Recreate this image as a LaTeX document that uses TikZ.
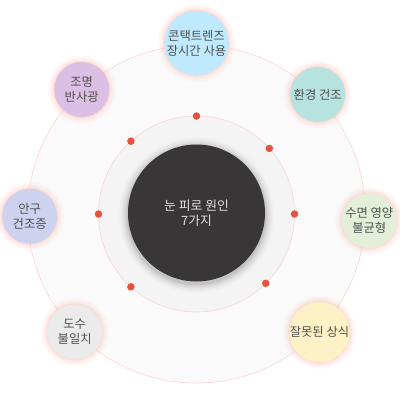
\documentclass[tikz,border=0pt]{standalone}
\usepackage{fontspec}
\usetikzlibrary{calc}
\setmainfont{Noto Sans CJK KR}
\definecolor{ringline}{HTML}{F9D6D0}
\definecolor{outerfill}{HTML}{FAFAFA}
\definecolor{midfill}{HTML}{F4F4F4}
\definecolor{corefill}{HTML}{383636}
\definecolor{coretext}{HTML}{E2E2E2}
\definecolor{dotred}{HTML}{E9513F}
\definecolor{glow}{HTML}{FFB4A8}
\definecolor{labeltext}{HTML}{505050}
\definecolor{cblue}{HTML}{BFE9FC}
\definecolor{cteal}{HTML}{B7E3DE}
\definecolor{cgreen}{HTML}{E3EFD9}
\definecolor{cyellow}{HTML}{FFF1C6}
\definecolor{cgray}{HTML}{EBEBEB}
\definecolor{clav}{HTML}{CDD3EF}
\definecolor{cpurple}{HTML}{DCBFE4}
\tikzset{
  ring/.style={circle, draw=ringline, line width=0.6pt, inner sep=0pt},
  bubble/.style={circle, minimum size=55pt, inner sep=0pt, fill=#1,
    text=labeltext, align=center, font=\fontsize{12.3}{15}\selectfont,
    preaction={draw=glow, line width=13pt, draw opacity=0.07},
    preaction={draw=glow, line width=9pt, draw opacity=0.1},
    preaction={draw=glow, line width=5pt, draw opacity=0.15},
    preaction={draw=glow, line width=2pt, draw opacity=0.2}},
  reddot/.style={circle, fill=dotred, minimum size=7.5pt, inner sep=0pt},
}
\begin{document}
\begin{tikzpicture}[x=1pt,y=-1pt]
\useasboundingbox (0,0) rectangle (400,400);
\fill[white] (0,0) rectangle (400,400);
% rings
\node[ring, fill=outerfill, minimum size=338pt] (outer) at (196.5,214) {};
\node[ring, fill=midfill, minimum size=196pt] (mid) at (196.5,214) {};
% core shadow
\foreach \w/\o in {18/0.02,14/0.03,10/0.04,6/0.05,3/0.06}
  \draw[black, line width=\w pt, draw opacity=\o] (196.5,215) circle (68.5);
\node[circle, fill=corefill, minimum size=137pt, inner sep=0pt, text=coretext,
  align=center, font=\fontsize{12.8}{15.5}\selectfont] (core) at (196.5,213)
  {눈 피로 원인\\7가지};
% dots on middle ring
\foreach \a/\n in {90/d1,42/d2,0/d3,-45/d4,228/d5,180/d6,132/d7}
  \node[reddot] (\n) at ($(196.5,214)+(\a:98 and -98)$) {};
% bubbles
\node[bubble=cblue, minimum size=57pt] (contact) at (196.5,43) {콘택트렌즈\\장시간 사용};
\node[bubble=cteal] (dry) at (317.7,94.5) {환경 건조};
\node[bubble=cgreen] (sleep) at (369.3,220.7) {수면 영양\\불균형};
\node[bubble=cyellow] (wrong) at (319.5,332.2) {잘못된 상식};
\node[bubble=cgray] (lens) at (74.7,332) {도수\\불일치};
\node[bubble=clav] (eye) at (29.7,216.3) {안구\\건조증};
\node[bubble=cpurple] (light) at (81.7,89.5) {조명\\반사광};
\end{tikzpicture}
\end{document}
